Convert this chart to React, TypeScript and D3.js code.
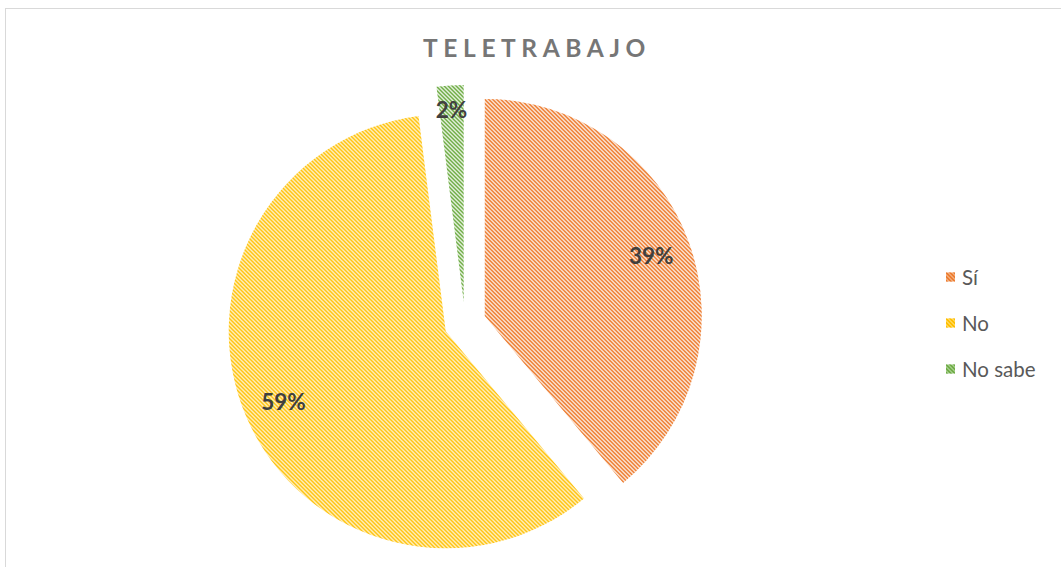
import React from "react";
import * as d3 from "d3";

const categories = ["Sí", "No", "No sabe"];
const values = [39, 59, 2];
const labels = ["39%", "59%", "2%"];
const title = "TELETRABAJO";

const fgColors = ["#ED7D31", "#FFC000", "#70AD47"];
const bgColors = ["#FBE5D6", "#FFF2CC", "#E2EFDA"];

const W = 1061;
const H = 567;

export default function App() {
  const cx = 465;
  const cy = 323;
  const R = 217;
  const explode = 21;

  const pie = d3
    .pie<number>()
    .sort(null)
    .startAngle(0)
    .endAngle(2 * Math.PI)
    .value((d) => d);
  const arcs = pie(values);
  const arcGen = d3.arc<d3.PieArcDatum<number>>().innerRadius(0).outerRadius(R);

  const legendY = d3.scalePoint<string>().domain(categories).range([277, 369]);

  return (
    <div style={{ position: "fixed", left: 0, top: 0 }}>
      <svg width={W} height={H} style={{ display: "block", background: "#fff" }}>
        <defs>
          {categories.map((c, i) => (
            <pattern
              key={c}
              id={`pat${i}`}
              patternUnits="userSpaceOnUse"
              width={4}
              height={4}
            >
              <rect x={0} y={0} width={4} height={4} fill={bgColors[i]} />
              {[0, 1, 2, 3].map((k) => (
                <g key={k}>
                  <rect x={k} y={k} width={2} height={1} fill={fgColors[i]} />
                  {k === 3 && <rect x={0} y={3} width={1} height={1} fill={fgColors[i]} />}
                </g>
              ))}
            </pattern>
          ))}
        </defs>
        <rect x={5.5} y={8.5} width={1200} height={700} fill="none" stroke="#D9D9D9" strokeWidth={1} />
        <text
          x={537}
          y={57}
          textAnchor="middle"
          fontFamily="Lato, 'Open Sans', sans-serif"
          fontWeight={700}
          fontSize={24.5}
          letterSpacing={5.6}
          fill="#767676"
        >
          {title}
        </text>
        {arcs.map((a, i) => {
          const mid = (a.startAngle + a.endAngle) / 2;
          const ox = cx + explode * Math.sin(mid);
          const oy = cy - explode * Math.cos(mid);
          const frac = a.endAngle - a.startAngle < 0.2 ? 0.89 : 0.815;
          const lx = ox + R * frac * Math.sin(mid);
          const ly = oy - R * frac * Math.cos(mid);
          return (
            <g key={categories[i]}>
              <path
                d={arcGen(a) || ""}
                transform={`translate(${ox},${oy})`}
                fill={`url(#pat${i})`}
              />
              <text
                x={lx}
                y={ly}
                textAnchor="middle"
                dominantBaseline="central"
                fontFamily="Lato, 'Open Sans', sans-serif"
                fontWeight={700}
                fontSize={22.5}
                fill="#404040"
              >
                {labels[i]}
              </text>
            </g>
          );
        })}
        {categories.map((c, i) => (
          <g key={c} transform={`translate(946,${legendY(c)})`}>
            <rect x={0} y={-4.5} width={9} height={9} fill={`url(#pat${i})`} />
            <rect x={0} y={-4.5} width={9} height={9} fill={fgColors[i]} opacity={0.6} />
            <text
              x={16}
              y={0}
              dominantBaseline="central"
              fontFamily="Lato, 'Open Sans', sans-serif"
              fontSize={20.5}
              fill="#595959"
            >
              {c}
            </text>
          </g>
        ))}
      </svg>
    </div>
  );
}
